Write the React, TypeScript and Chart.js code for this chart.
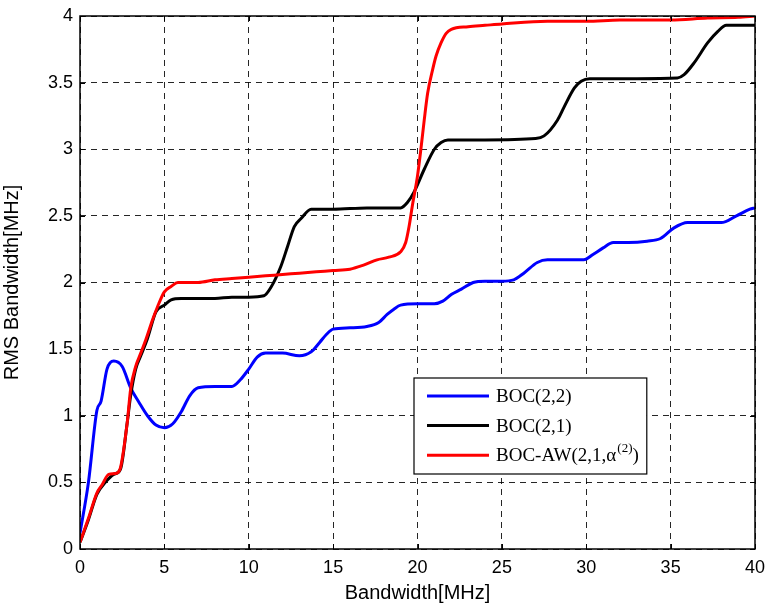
import React, { useEffect, useRef } from "react";
import { Chart, registerables } from "chart.js";

Chart.register(...registerables);

// ---- Data ----
const xTicks = [0, 5, 10, 15, 20, 25, 30, 35, 40];
const yTicks = [0, 0.5, 1, 1.5, 2, 2.5, 3, 3.5, 4];

const boc22X = [0, 0.5, 1, 1.25, 1.6, 2, 2.5, 3, 3.5, 4, 4.5, 5, 5.5, 6, 6.5, 7, 8, 9, 9.5, 10, 10.5, 11, 12, 13, 13.7, 14.2, 14.6, 15, 16, 17, 17.7, 18.2, 18.6, 19, 20, 21, 21.5, 22, 22.6, 23.3, 24, 25, 25.7, 26.3, 27.1, 27.7, 28.5, 29.85, 30.4, 31, 31.6, 32.5, 33.6, 34.4, 35.2, 36, 37, 38, 38.9, 39.7, 40];
const boc22Y = [0.12, 0.5, 1.04, 1.11, 1.35, 1.41, 1.37, 1.21, 1.1, 1.0, 0.93, 0.91, 0.94, 1.03, 1.15, 1.21, 1.22, 1.22, 1.27, 1.35, 1.44, 1.47, 1.47, 1.45, 1.48, 1.55, 1.61, 1.65, 1.66, 1.67, 1.7, 1.76, 1.8, 1.83, 1.84, 1.84, 1.86, 1.91, 1.95, 2.0, 2.01, 2.01, 2.02, 2.07, 2.15, 2.17, 2.17, 2.17, 2.21, 2.26, 2.3, 2.3, 2.31, 2.33, 2.41, 2.45, 2.45, 2.45, 2.5, 2.55, 2.56];

const boc21X = [0, 0.5, 1, 1.5, 2, 2.4, 2.8, 3, 3.3, 3.6, 4, 4.5, 5, 5.4, 6, 8, 9, 10, 10.9, 11.3, 11.9, 12.3, 12.7, 13.1, 13.7, 15, 17, 19, 19.4, 19.8, 20.4, 21, 21.4, 21.8, 24, 27, 27.5, 28.3, 28.7, 29.3, 29.7, 30.2, 33, 35.4, 35.8, 36.4, 37.2, 37.8, 38.3, 40];
const boc21Y = [0.05, 0.22, 0.41, 0.5, 0.56, 0.6, 0.95, 1.15, 1.35, 1.45, 1.58, 1.78, 1.83, 1.87, 1.88, 1.88, 1.89, 1.89, 1.9, 1.96, 2.12, 2.27, 2.42, 2.48, 2.55, 2.55, 2.56, 2.56, 2.6, 2.68, 2.85, 3.0, 3.05, 3.07, 3.07, 3.08, 3.1, 3.22, 3.32, 3.46, 3.51, 3.53, 3.53, 3.535, 3.56, 3.65, 3.8, 3.885, 3.93, 3.93];

const bocAwX = [0, 0.5, 1, 1.3, 1.7, 2.2, 2.4, 2.8, 3, 3.3, 3.6, 3.9, 4.3, 4.6, 5, 5.4, 5.8, 7, 8, 9, 10, 11, 12, 13, 14, 15, 16, 16.8, 17.6, 18.3, 19, 19.3, 19.5, 19.7, 20, 20.2, 20.4, 20.6, 20.9, 21.1, 21.4, 21.7, 22, 23, 24, 25, 27.7, 30, 32, 35, 37.2, 39, 40];
const bocAwY = [0.05, 0.23, 0.42, 0.48, 0.56, 0.57, 0.61, 0.95, 1.2, 1.37, 1.47, 1.57, 1.72, 1.82, 1.93, 1.97, 2.0, 2.0, 2.02, 2.03, 2.04, 2.05, 2.06, 2.07, 2.08, 2.09, 2.1, 2.13, 2.17, 2.19, 2.23, 2.3, 2.42, 2.58, 2.8, 3.0, 3.22, 3.42, 3.6, 3.7, 3.8, 3.87, 3.9, 3.92, 3.93, 3.94, 3.96, 3.96, 3.97, 3.97, 3.985, 3.99, 4.0];

const seriesLabels = ["BOC(2,2)", "BOC(2,1)", "BOC-AW(2,1,α(2))"];
// legend label pieces: [main, superscript, suffix]
const legendParts: [string, string, string][] = [
  ["BOC(2,2)", "", ""],
  ["BOC(2,1)", "", ""],
  ["BOC-AW(2,1,α", "(2)", ")"],
];
const seriesColors = ["#0000ff", "#000000", "#ff0000"];

const xTitle = "Bandwidth[MHz]";
const yTitle = "RMS Bandwidth[MHz]";

const toPoints = (xs: number[], ys: number[]) => xs.map((x, i) => ({ x, y: ys[i] }));

const SANS = "'Liberation Sans', Arial, Helvetica, sans-serif";
const SERIF = "'Liberation Serif', 'Times New Roman', serif";

const frameAndLegend = {
  id: "frameAndLegend",
  afterDraw(chart: any) {
    const { ctx, chartArea } = chart;
    const { left, right, top, bottom } = chartArea;
    ctx.save();
    // inside tick marks
    ctx.strokeStyle = "#000";
    ctx.lineWidth = 1;
    const xs = chart.scales.x;
    const ys = chart.scales.y;
    const tl = 5;
    ctx.beginPath();
    xTicks.forEach((t) => {
      const px = Math.round(xs.getPixelForValue(t)) + 0.5;
      ctx.moveTo(px, bottom);
      ctx.lineTo(px, bottom - tl);
      ctx.moveTo(px, top);
      ctx.lineTo(px, top + tl);
    });
    yTicks.forEach((t) => {
      const py = Math.round(ys.getPixelForValue(t)) + 0.5;
      ctx.moveTo(left, py);
      ctx.lineTo(left + tl, py);
      ctx.moveTo(right, py);
      ctx.lineTo(right - tl, py);
    });
    ctx.stroke();
    // frame
    ctx.lineWidth = 1.5;
    ctx.strokeRect(left, top, right - left, bottom - top);

    // legend
    const bx = 414;
    const by = 378;
    const rowH = 29.6;
    const lineX0 = 427;
    const lineX1 = 489;
    const textX = 496;
    const mainFont = `19px ${SERIF}`;
    const supFont = `13px ${SERIF}`;
    let maxW = 0;
    legendParts.forEach(([m, s, e]) => {
      ctx.font = mainFont;
      let w = ctx.measureText(m).width + ctx.measureText(e).width;
      ctx.font = supFont;
      w += s ? ctx.measureText(s).width + 1 : 0;
      maxW = Math.max(maxW, w);
    });
    const bw = textX + maxW + 8 - bx;
    const bh = 96;
    ctx.fillStyle = "#fff";
    ctx.fillRect(bx, by, bw, bh);
    ctx.lineWidth = 1.2;
    ctx.strokeStyle = "#000";
    ctx.strokeRect(bx, by, bw, bh);
    legendParts.forEach(([m, s, e], i) => {
      const cy = by + 18 + i * rowH;
      ctx.strokeStyle = seriesColors[i];
      ctx.lineWidth = 3;
      ctx.beginPath();
      ctx.moveTo(lineX0, cy);
      ctx.lineTo(lineX1, cy);
      ctx.stroke();
      ctx.fillStyle = "#000";
      ctx.textBaseline = "middle";
      ctx.textAlign = "left";
      ctx.font = mainFont;
      let x = textX;
      ctx.fillText(m, x, cy + 1);
      x += ctx.measureText(m).width;
      if (s) {
        ctx.font = supFont;
        x += 1;
        ctx.fillText(s, x, cy - 7);
        x += ctx.measureText(s).width;
        ctx.font = mainFont;
      }
      if (e) ctx.fillText(e, x, cy + 1);
    });
    ctx.restore();
  },
};

export default function App() {
  const ref = useRef<HTMLCanvasElement | null>(null);
  useEffect(() => {
    if (!ref.current) return;
    const gridCommon = {
      color: "rgba(0,0,0,0.85)",
      lineWidth: 1,
      drawTicks: false,
      tickBorderDash: [],
    };
    const chart = new Chart(ref.current, {
      type: "line",
      data: {
        datasets: [
          { label: seriesLabels[0], data: toPoints(boc22X, boc22Y), borderColor: seriesColors[0], order: 2 },
          { label: seriesLabels[1], data: toPoints(boc21X, boc21Y), borderColor: seriesColors[1], order: 1 },
          { label: seriesLabels[2], data: toPoints(bocAwX, bocAwY), borderColor: seriesColors[2], order: 0 },
        ].map((d) => ({
          ...d,
          borderWidth: 3,
          pointRadius: 0,
          fill: false,
          cubicInterpolationMode: "monotone" as const,
        })),
      },
      options: {
        responsive: false,
        animation: false,
        layout: { padding: { top: 16, right: 11, bottom: 1, left: 0 } },
        plugins: { legend: { display: false }, tooltip: { enabled: false } },
        scales: {
          x: {
            type: "linear",
            min: 0,
            max: 40,
            afterBuildTicks: (s: any) => {
              s.ticks = xTicks.map((v) => ({ value: v }));
            },
            afterFit: (s: any) => {
              s.height = 56;
              s.paddingLeft = 0;
              s.paddingRight = 0;
            },
            grid: { ...gridCommon },
            border: { display: false, dash: [6, 5] },
            ticks: { color: "#000", font: { family: SANS, size: 18 }, padding: 8, maxRotation: 0 },
            title: { display: true, text: xTitle, color: "#000", font: { family: SANS, size: 20 }, padding: 0 },
          },
          y: {
            type: "linear",
            min: 0,
            max: 4,
            afterBuildTicks: (s: any) => {
              s.ticks = yTicks.map((v) => ({ value: v }));
            },
            afterFit: (s: any) => {
              s.width = 80;
              s.paddingTop = 0;
              s.paddingBottom = 0;
            },
            grid: { ...gridCommon },
            border: { display: false, dash: [6, 5] },
            ticks: {
              color: "#000",
              font: { family: SANS, size: 18 },
              padding: 7,
              callback: (v: any) => String(v),
            },
            title: { display: true, text: yTitle, color: "#000", font: { family: SANS, size: 20 }, padding: 0 },
          },
        },
      },
      plugins: [frameAndLegend],
    });
    return () => chart.destroy();
  }, []);
  return (
    <div style={{ position: "absolute", left: 0, top: 0, width: 766, height: 606, background: "#fff" }}>
      <canvas ref={ref} width={766} height={606} style={{ display: "block", width: 766, height: 606 }} />
    </div>
  );
}
